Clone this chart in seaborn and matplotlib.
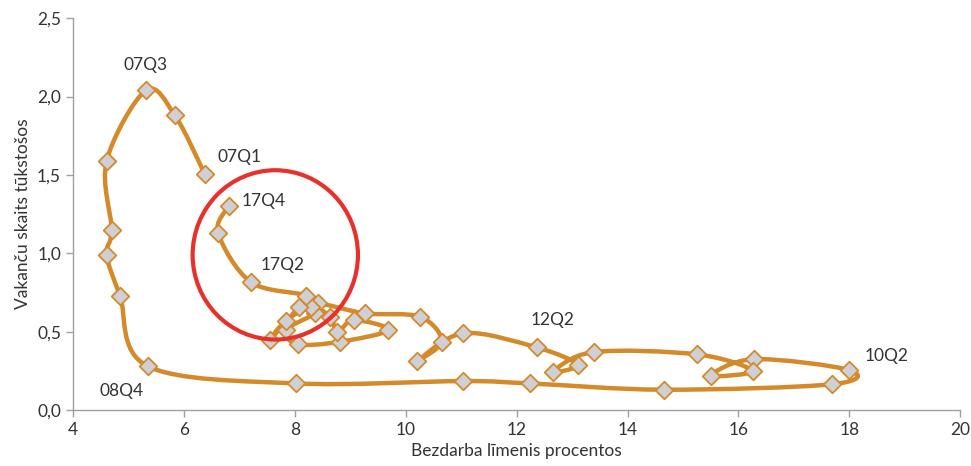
import numpy as np
import matplotlib
matplotlib.use("Agg")
import matplotlib.pyplot as plt
from matplotlib.path import Path
from matplotlib.patches import PathPatch, Ellipse
from matplotlib.ticker import FuncFormatter
import seaborn as sns

sns.set_style("white")
plt.rcParams["font.family"] = ["Lato", "DejaVu Sans"]

# quarters 2007Q1 .. 2017Q4
quarters = [f"{y:02d}Q{q}" for y in range(7, 18) for q in range(1, 5)]

# unemployment rate, % (x)
unemployment = [6.38, 5.84, 5.32, 4.61,
                4.70, 4.61, 4.85, 5.35,
                8.02, 11.03, 12.24, 14.66,
                17.69, 18.00, 16.28, 15.51,
                16.26, 15.26, 13.39, 12.66,
                13.10, 12.36, 11.04, 10.20,
                10.65, 10.26, 9.27, 8.42,
                8.37, 7.84, 8.06, 8.82,
                9.69, 9.07, 8.77, 8.64,
                8.30, 7.84, 7.55, 8.08,
                8.21, 7.21, 6.62, 6.81]

# vacancies, thousands (y)
vacancies = [1.505, 1.88, 2.04, 1.59,
             1.15, 0.99, 0.73, 0.28,
             0.17, 0.185, 0.17, 0.13,
             0.165, 0.255, 0.325, 0.22,
             0.25, 0.355, 0.37, 0.245,
             0.29, 0.40, 0.49, 0.31,
             0.436, 0.595, 0.617, 0.68,
             0.617, 0.51, 0.42, 0.436,
             0.51, 0.574, 0.50, 0.595,
             0.655, 0.57, 0.446, 0.66,
             0.73, 0.816, 1.13, 1.30]

# labelled quarters: offset in points, horizontal alignment
point_labels = {
    "07Q3": (0, 18, "center"),
    "07Q1": (9, 12, "left"),
    "17Q4": (9, 4, "left"),
    "17Q2": (7, 12, "left"),
    "12Q2": (-4, 20, "left"),
    "10Q2": (11, 10, "left"),
    "08Q4": (-35, -18, "left"),
}

# red highlight circle (data units)
highlight_center = (7.65, 0.99)
highlight_size = (2.98, 1.08)

LINE_COL = "#D4892A"
MARK_FILL = "#CFCFD6"
TEXT_COL = "#333333"
AXIS_COL = "#A0A0A0"

fig, ax = plt.subplots(figsize=(9.71, 4.66), dpi=100)
fig.subplots_adjust(left=0.075, right=0.989, bottom=0.12, top=0.961)

# smooth line: Catmull-Rom converted to cubic Bezier segments
pts = np.column_stack([unemployment, vacancies])
ext = np.vstack([pts[0], pts, pts[-1]])
verts = [pts[0]]
codes = [Path.MOVETO]
for i in range(1, len(ext) - 2):
    p0, p1, p2, p3 = ext[i - 1], ext[i], ext[i + 1], ext[i + 2]
    verts += [p1 + (p2 - p0) / 6, p2 - (p3 - p1) / 6, p2]
    codes += [Path.CURVE4] * 3
ax.add_patch(PathPatch(Path(verts, codes), facecolor="none", edgecolor=LINE_COL,
                       lw=3.2, capstyle="round", joinstyle="round", zorder=2))

sns.scatterplot(x=unemployment, y=vacancies, marker="D", s=80, color=MARK_FILL,
                edgecolor=LINE_COL, linewidth=1.3, ax=ax, zorder=3, legend=False)

for name, (dx, dy, ha) in point_labels.items():
    i = quarters.index(name)
    ax.annotate(name, (unemployment[i], vacancies[i]), xytext=(dx, dy),
                textcoords="offset points", ha=ha, va="center",
                fontsize=12.5, color=TEXT_COL, zorder=4)

ax.add_patch(Ellipse(highlight_center, highlight_size[0], highlight_size[1],
                     facecolor="none", edgecolor="#E8312B", lw=3, zorder=5,
                     clip_on=False))

ax.set_xlim(4, 20)
ax.set_ylim(0, 2.5)
ax.set_xticks(np.arange(4, 21, 2))
ax.set_yticks(np.arange(0, 2.51, 0.5))
ax.yaxis.set_major_formatter(FuncFormatter(lambda v, p: f"{v:.1f}".replace(".", ",")))

for s in ["top", "right"]:
    ax.spines[s].set_visible(False)
for s in ["left", "bottom"]:
    ax.spines[s].set_color(AXIS_COL)
    ax.spines[s].set_linewidth(1)
ax.tick_params(axis="both", which="major", length=5, width=1, color=AXIS_COL,
               labelsize=12.5, labelcolor=TEXT_COL, direction="out", bottom=True, left=True)

ax.set_xlabel("Bezdarba līmenis procentos", fontsize=12.5, color=TEXT_COL)
ax.set_ylabel("Vakanču skaits tūkstošos", fontsize=12.5, color=TEXT_COL)

fig.savefig("out.png", dpi=100)
plt.close(fig)
